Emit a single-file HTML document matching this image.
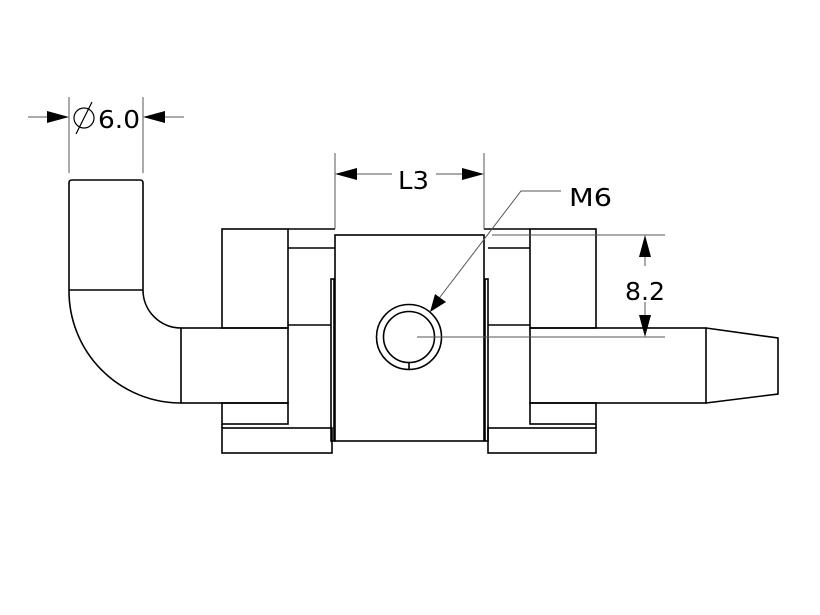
<!DOCTYPE html>
<html><head><meta charset="utf-8"><style>html,body{margin:0;padding:0;background:#fff}svg{display:block}</style></head><body>
<svg width="820" height="615" viewBox="0 0 820 615" xmlns="http://www.w3.org/2000/svg">
<g fill="none" stroke="#000" stroke-width="1.6">
<path d="M69,183 Q69,180 72,180 L140,180 Q143,180 143,183"/>
<line x1="69" y1="183" x2="69" y2="290"/><line x1="143" y1="183" x2="143" y2="290"/>
<line x1="69" y1="290" x2="143" y2="290"/>
<path d="M69,290 A112,112 0 0 0 181,403"/>
<path d="M143,290 A38,38 0 0 0 181,328"/>
<rect x="181" y="328" width="107" height="75"/>
<rect x="222" y="229" width="66" height="99"/>
<rect x="222" y="403" width="66" height="21"/>
<rect x="222" y="428" width="110" height="25"/>
<line x1="222" y1="424" x2="222" y2="428"/>
<line x1="288" y1="229" x2="335" y2="229"/>
<line x1="288" y1="248" x2="335" y2="248"/>
<line x1="288" y1="325" x2="331" y2="325"/>
<rect x="331" y="279" width="3" height="162"/>
<rect x="335" y="235" width="149" height="206"/>
<circle cx="409" cy="337" r="32.5"/>
<circle cx="409" cy="337" r="25.5"/>
<line x1="409" y1="362" x2="409" y2="369"/>
<rect x="485" y="279" width="3" height="162"/>
<line x1="484" y1="229" x2="530" y2="229"/>
<line x1="488" y1="248" x2="530" y2="248"/>
<line x1="488" y1="325" x2="530" y2="325"/>
<rect x="530" y="229" width="66" height="99"/>
<rect x="530" y="403" width="66" height="21"/>
<rect x="488" y="428" width="108" height="25"/>
<line x1="596" y1="424" x2="596" y2="428"/>
<rect x="530" y="328" width="176" height="75"/>
<path d="M706,328 L778,338 L778,394 L706,403"/>
</g>
<g stroke="#555" stroke-width="1" fill="none">
<line x1="69" y1="97" x2="69" y2="173"/><line x1="143" y1="97" x2="143" y2="173"/>
<line x1="28" y1="117" x2="50" y2="117"/><line x1="162" y1="117" x2="184" y2="117"/>
<line x1="335" y1="153" x2="335" y2="229"/><line x1="484" y1="153" x2="484" y2="229"/>
<line x1="355" y1="174" x2="392" y2="174"/><line x1="436" y1="174" x2="464" y2="174"/>
<polyline points="561,191 521,191 437,301"/>
<line x1="492" y1="235" x2="665" y2="235"/><line x1="417" y1="337" x2="665" y2="337"/>
<line x1="645" y1="255" x2="645" y2="266"/><line x1="645" y1="302" x2="645" y2="317"/>
</g>
<g fill="#000" stroke="none">
<polygon points="69,117 47,111 47,123"/>
<polygon points="143,117 165,111 165,123"/>
<polygon points="335,174 357,168 357,180"/>
<polygon points="484,174 462,168 462,180"/>
<polygon points="430,312 435,294 446,302"/>
<polygon points="645,235 639,257 651,257"/>
<polygon points="645,337 639,315 651,315"/>
</g>
<g font-family="DejaVu Sans, Liberation Sans, sans-serif" font-size="25" fill="#000">
<circle cx="84" cy="118" r="10" fill="none" stroke="#000" stroke-width="1.2"/>
<line x1="76" y1="134" x2="92" y2="102" stroke="#000" stroke-width="1.2"/>
<text x="98" y="128" textLength="42" lengthAdjust="spacingAndGlyphs">6.0</text>
<text x="398" y="189" textLength="31" lengthAdjust="spacingAndGlyphs">L3</text>
<text x="569" y="206" textLength="43" lengthAdjust="spacingAndGlyphs">M6</text>
<text x="625" y="300" textLength="40" lengthAdjust="spacingAndGlyphs">8.2</text>
</g>
</svg>
</body></html>
